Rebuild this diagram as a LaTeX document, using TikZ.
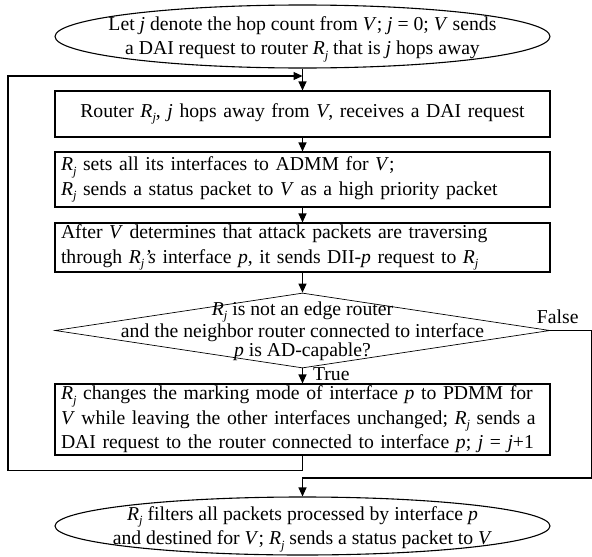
\documentclass[tikz,border=0pt]{standalone}
\usepackage{fontspec}
\setmainfont{Liberation Serif}
\usetikzlibrary{shapes.geometric,arrows.meta,positioning}

\newcommand{\Rj}{\textit{R}\raisebox{-.5ex}{\fontsize{12.5}{12.5}\selectfont\textit{j}}}

\tikzset{
  every node/.style={font=\fontsize{19.7}{24.5}\selectfont},
  procbox/.style={draw, line width=1.1pt, minimum width=495pt, text width=483pt, inner xsep=6pt, inner ysep=0pt, align=left},
  terminal/.style={draw, ellipse, line width=1.1pt, minimum width=495pt, inner sep=0pt},
  decision/.style={draw, diamond, line width=0.7pt, minimum width=495pt, minimum height=75pt, inner sep=0pt},
  flow/.style={line width=1.1pt, ->}
}

\begin{document}
\begin{tikzpicture}[x=1pt, y=-1pt, >={Triangle[length=9pt,width=8pt]}]
    \useasboundingbox (0,0) rectangle (592,557);

    \node[terminal, minimum height=63pt] (start) at (302.5,36.5) {};
    \node[align=center] (starttext) at (302.5,39) {Let \textit{j} denote the hop count from \textit{V}; \textit{j} = 0; \textit{V} sends\\a DAI request to router \Rj{} that is \textit{j} hops away};

    \node[procbox, align=center, minimum height=46pt] (recv) at (302.5,114) {Router \Rj, \textit{j} hops away from \textit{V}, receives a DAI request};
    \node[procbox, minimum height=55pt] (admm) at (302.5,179.5) {\Rj{} sets all its interfaces to ADMM for \textit{V};\\\Rj{} sends a status packet to \textit{V} as a high priority packet};
    \node[procbox, minimum height=49pt] (dii) at (302.5,247.5) {After \textit{V} determines that attack packets are traversing\\through \Rj\textit{’s} interface \textit{p}, it sends DII-\textit{p} request to \Rj};

    \node[decision] (check) at (302.5,330.5) {};
    \node[align=center, font=\fontsize{19.7}{17}\selectfont] (checktext) at (302.5,331) {\Rj{} is not an edge router\\and the neighbor router connected to interface\\\textit{p} is AD-capable?};

    \node[procbox, minimum height=71pt] (pdmm) at (302.5,419.5) {\Rj{} changes the marking mode of interface \textit{p} to PDMM for\\\textit{V} while leaving the other interfaces unchanged; \Rj{} sends a\\DAI request to the router connected to interface \textit{p}; \textit{j} = \textit{j}+1};

    \node[terminal, minimum height=58pt] (stop) at (302.5,526) {};
    \node[align=center] (stoptext) at (302.5,529) {\Rj{} filters all packets processed by interface \textit{p}\\and destined for \textit{V}; \Rj{} sends a status packet to \textit{V}};

    \coordinate (join) at (302.5,76);

    \draw[flow] (start) -- (recv);
    \draw[flow] (recv) -- (admm);
    \draw[flow] (admm) -- (dii);
    \draw[flow] (dii) -- (check);
    \draw[flow] (check) -- node[right, xshift=10pt, yshift=2pt, inner sep=0pt] {True} (pdmm);
    \draw[flow] (pdmm.south) -- ++(0,15) -| (8,76) -- (join);
    \draw[flow] (check.east) -- node[above, pos=0.18, yshift=3pt] {False} (591.5,330.5) -- (591.5,478) -| (stop.north);
\end{tikzpicture}
\end{document}
